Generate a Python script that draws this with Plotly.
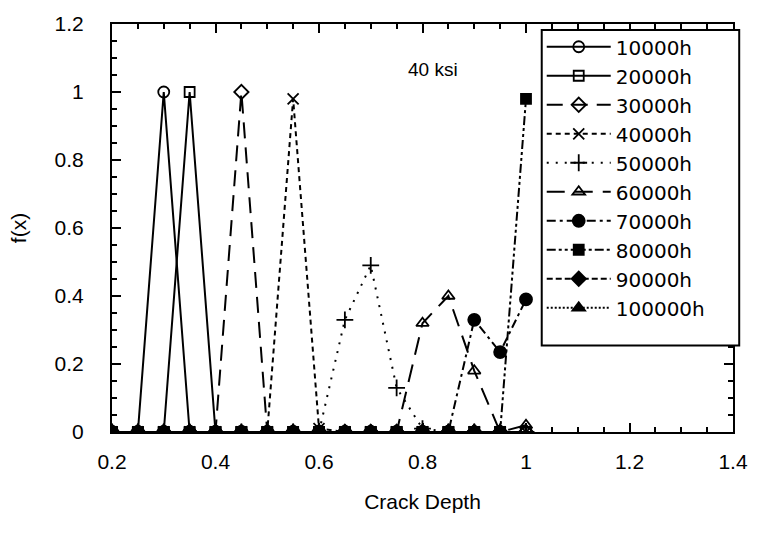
import plotly.graph_objects as go

# Crack depth grid shared by every series
depth = [0.2, 0.25, 0.3, 0.35, 0.4, 0.45, 0.5, 0.55, 0.6, 0.65, 0.7, 0.75,
         0.8, 0.85, 0.9, 0.95, 1.0]

# Probability density f(x) per inspection time
f_10000h = [0, 0, 1.0, 0, 0, 0, 0, 0, 0, 0, 0, 0, 0, 0, 0, 0, 0]
f_20000h = [0, 0, 0, 1.0, 0, 0, 0, 0, 0, 0, 0, 0, 0, 0, 0, 0, 0]
f_30000h = [0, 0, 0, 0, 0, 1.0, 0, 0, 0, 0, 0, 0, 0, 0, 0, 0, 0]
f_40000h = [0, 0, 0, 0, 0, 0, 0, 0.98, 0.01, 0, 0, 0, 0, 0, 0, 0, 0]
f_50000h = [0, 0, 0, 0, 0, 0, 0, 0, 0, 0.33, 0.49, 0.13, 0.01, 0, 0, 0, 0]
f_60000h = [0, 0, 0, 0, 0, 0, 0, 0, 0, 0, 0, 0, 0.32, 0.40, 0.18, 0, 0.02]
f_70000h = [0, 0, 0, 0, 0, 0, 0, 0, 0, 0, 0, 0, 0, 0, 0.33, 0.235, 0.39]
f_80000h = [0, 0, 0, 0, 0, 0, 0, 0, 0, 0, 0, 0, 0, 0, 0, 0, 0.98]
f_90000h = [0, 0, 0, 0, 0, 0, 0, 0, 0, 0, 0, 0, 0, 0, 0, 0]
f_100000h = [0, 0, 0, 0, 0, 0, 0, 0, 0, 0, 0, 0, 0, 0, 0, 0]

series_names = ["10000h", "20000h", "30000h", "40000h", "50000h",
                "60000h", "70000h", "80000h", "90000h", "100000h"]
series_values = [f_10000h, f_20000h, f_30000h, f_40000h, f_50000h,
                 f_60000h, f_70000h, f_80000h, f_90000h, f_100000h]

x_ticks = [0.2, 0.4, 0.6, 0.8, 1.0, 1.2, 1.4]
x_tick_text = ["0.2", "0.4", "0.6", "0.8", "1", "1.2", "1.4"]
y_ticks = [0, 0.2, 0.4, 0.6, 0.8, 1.0, 1.2]
y_tick_text = ["0", "0.2", "0.4", "0.6", "0.8", "1", "1.2"]

styles = {
    "10000h": dict(dash="solid", symbol="circle-open", size=11),
    "20000h": dict(dash="solid", symbol="square-open", size=10),
    "30000h": dict(dash="16px,9px", symbol="diamond-open", size=11),
    "40000h": dict(dash="5px,4px", symbol="x-thin-open", size=11),
    "50000h": dict(dash="2px,7px", symbol="cross-thin-open", size=12),
    "60000h": dict(dash="18px,10px", symbol="triangle-up-open", size=11),
    "70000h": dict(dash="9px,4px,3px,4px", symbol="circle", size=12),
    "80000h": dict(dash="9px,3px,3px,3px,3px,3px", symbol="square", size=10),
    "90000h": dict(dash="6px,3px", symbol="diamond", size=11),
    "100000h": dict(dash="2px,2px", symbol="triangle-up", size=11),
}

FONT = "Liberation Sans, Arial, Helvetica, sans-serif"
LEGEND_FONT = "DejaVu Sans, Verdana, sans-serif"

fig = go.Figure()

# draw the all-zero series first and the filled squares last
draw_order = ["90000h", "100000h", "10000h", "20000h", "30000h", "40000h",
              "50000h", "60000h", "70000h", "80000h"]
for name in draw_order:
    i = series_names.index(name)
    vals = series_values[i]
    st = styles[name]
    fig.add_trace(go.Scatter(
        x=depth[:len(vals)], y=vals, name=name, mode="lines+markers",
        legendrank=i + 1,
        line=dict(color="black", width=2, dash=st["dash"]),
        marker=dict(symbol=st["symbol"], size=st["size"], color="black",
                    line=dict(color="black", width=1.8)),
    ))

fig.add_annotation(x=0.82, y=1.065, text="40 ksi", showarrow=False,
                   font=dict(family=FONT, size=19, color="black"))

# legend frame
fig.add_shape(type="rect", xref="paper", yref="paper",
              x0=0.692, x1=1.01, y0=0.212, y1=0.985,
              line=dict(color="black", width=2), fillcolor="white",
              layer="above")

axis_common = dict(
    showline=True, linecolor="black", linewidth=2, mirror="allticks",
    ticks="inside", ticklen=9, tickwidth=2, tickcolor="black",
    showgrid=False, zeroline=False, ticklabeloverflow="allow",
    tickfont=dict(family=FONT, size=21, color="black"),
)

fig.update_xaxes(
    range=[0.2, 1.4], tickvals=x_ticks, ticktext=x_tick_text,
    title=dict(text="Crack Depth", font=dict(family=FONT, size=21, color="black"),
               standoff=22),
    minor=dict(dtick=0.05, tick0=0.2, ticks="inside", ticklen=5, tickwidth=1.5,
               tickcolor="black", showgrid=False),
    ticklabelstandoff=10,
    **axis_common,
)
fig.update_yaxes(
    range=[0, 1.2], tickvals=y_ticks, ticktext=y_tick_text,
    title=dict(text="f(x)", font=dict(family=FONT, size=21, color="black"),
               standoff=22),
    minor=dict(dtick=0.05, tick0=0, ticks="inside", ticklen=5, tickwidth=1.5,
               tickcolor="black", showgrid=False),
    ticklabelstandoff=22,
    **axis_common,
)

fig.update_layout(
    width=760, height=546,
    margin=dict(l=112, r=15, t=21, b=114),
    paper_bgcolor="white", plot_bgcolor="white",
    showlegend=True,
    legend=dict(
        x=0.692, y=0.992, xanchor="left", yanchor="top",
        bgcolor="rgba(0,0,0,0)", borderwidth=0,
        font=dict(family=LEGEND_FONT, size=20, color="black"),
        itemwidth=64, tracegroupgap=0,
    ),
    font=dict(family=FONT, color="black"),
)

fig.write_html("out.html")
